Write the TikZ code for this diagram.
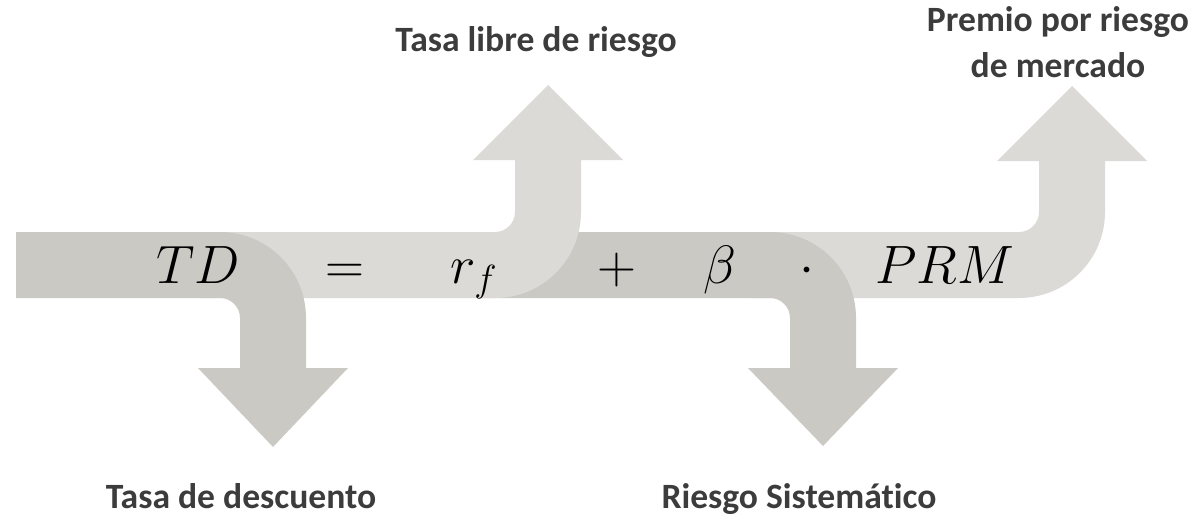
\documentclass[tikz,border=0pt]{standalone}
\usepackage{fix-cm}
\usepackage{fontspec}
\newfontfamily\labelfont[Ligatures=NoCommon]{Carlito}
\usetikzlibrary{positioning}
\definecolor{bandDark}{RGB}{202,201,196}
\definecolor{bandLight}{RGB}{219,218,214}
\definecolor{labelGray}{RGB}{60,60,60}

\begin{document}
\begin{tikzpicture}[
      x=0.5pt, y=-0.5pt,
      sym/.style={anchor=base, inner sep=0pt, font=\fontsize{27}{30}\selectfont},
      lbl/.style={anchor=base, inner sep=0pt, align=center, text=labelGray,
        font=\labelfont\bfseries\fontsize{17.8}{23}\selectfont}
    ]
    \useasboundingbox (0,0) rectangle (1203,519);
    % bands, right to left so each bend lies over the next band
    \fill[bandLight] (750,232) -- (1019,232) .. controls (1030,232) and (1039,223) .. (1039,212)
      -- (1039,161) -- (997,161) -- (1072,86) -- (1147,161) -- (1105,161) -- (1105,212)
      .. controls (1105,259.5) and (1066.5,298) .. (1019,298) -- (750,298) -- cycle;
    \fill[bandDark] (480,232) -- (770,232) .. controls (817.5,232) and (856,270.5) .. (856,318)
      -- (856,368) -- (898,368) -- (823,446) -- (748,368) -- (790,368) -- (790,318)
      .. controls (790,307) and (781,298) .. (770,298) -- (480,298) -- cycle;
    \fill[bandLight] (200,232) -- (495,232) .. controls (506,232) and (515,223) .. (515,212)
      -- (515,160) -- (473,160) -- (548,85) -- (623,160) -- (581,160) -- (581,212)
      .. controls (581,259.5) and (542.5,298) .. (495,298) -- (200,298) -- cycle;
    \fill[bandDark] (16,232) -- (220,232) .. controls (267.5,232) and (306,270.5) .. (306,318)
      -- (306,368) -- (348,368) -- (273,447) -- (198,368) -- (240,368) -- (240,318)
      .. controls (240,307) and (231,298) .. (220,298) -- (16,298) -- cycle;
    % formula
    \node[sym] (td) at (198,283) {$TD$};
    \node[sym] (eq) at (345,283) {$=$};
    \node[sym] (rf) at (474,283) {$r_f$};
    \node[sym] (plus) at (617,283) {$+$};
    \node[sym] (beta) at (720,283) {$\beta$};
    \node[sym] (dot) at (807,283) {$\cdot$};
    \node[sym] (prm) at (945,283) {$PRM$};
    % labels
    \node[lbl] (descuento) at (241,508) {Tasa de descuento};
    \node[lbl] (libre) at (536,52) {Tasa libre de riesgo};
    \node[lbl] (sistematico) at (799,508) {Riesgo Sistemático};
    \node[lbl] (premio) at (1058,78) {Premio por riesgo\\de mercado};
\end{tikzpicture}
\end{document}
